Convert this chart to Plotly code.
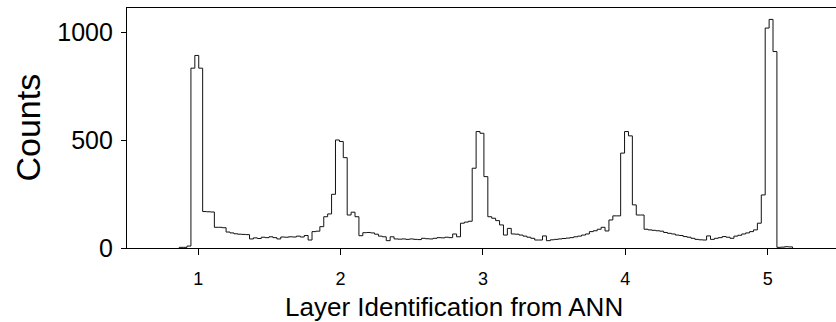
import plotly.graph_objects as go

# Histogram bins (uniform width)
BIN_START = 0.8667
BIN_WIDTH = 0.02744

counts = [
    3, 3, 9,                                   # before peak 1
    834, 893, 834, 169, 168, 167, 96, 96, 94, 74,
    70, 66, 64, 63, 62, 42, 47, 44, 50, 48,
    52, 48, 42, 51, 50, 52, 51, 55, 51, 58,
    37, 76, 78, 99, 145, 158, 249, 501, 494, 419,
    153, 166, 145, 57, 71, 72, 70, 64, 55, 52,
    34, 52, 42, 41, 42, 40, 42, 40, 39, 45,
    43, 42, 45, 48, 47, 50, 48, 65, 52, 115,
    120, 124, 370, 540, 532, 331, 145, 138, 127, 107,
    60, 91, 65, 64, 60, 55, 50, 45, 37, 37,
    56, 34, 38, 40, 42, 44, 46, 48, 52, 55,
    60, 65, 76, 80, 87, 96, 79, 130, 149, 149,
    440, 540, 520, 200, 153, 153, 87, 84, 82, 80,
    78, 72, 68, 65, 60, 58, 53, 50, 45, 40,
    38, 37, 56, 40, 45, 48, 53, 50, 45, 55,
    59, 65, 70, 76, 84, 115, 246, 1020, 1060, 911,
    3, 4, 6, 5,                                # after peak 5
]

y_ticks = [0, 500, 1000]
x_ticks = [1, 2, 3, 4, 5]
x_title = "Layer Identification from ANN"
y_title = "Counts"

n = len(counts)
edges = [BIN_START + BIN_WIDTH * i for i in range(n + 1)]
xs = [edges[0]] + edges[:n] + [edges[n]]
ys = [0] + counts + [0]

FONT = "Liberation Sans, Arial, Helvetica, sans-serif"

fig = go.Figure()
fig.add_trace(go.Scatter(
    x=xs, y=ys, mode="lines", line=dict(shape="hv", color="#111111", width=1),
    hoverinfo="skip", showlegend=False,
))

fig.update_layout(
    width=836, height=322,
    margin=dict(l=127, r=0, t=8, b=74),
    paper_bgcolor="white", plot_bgcolor="white",
    font=dict(family=FONT, color="black"),
    xaxis=dict(
        range=[0.5, 5.48], tickvals=x_ticks, ticktext=[str(v) for v in x_ticks],
        showgrid=False, zeroline=False, showline=True, linecolor="black", linewidth=1.2,
        mirror=True, ticks="outside", ticklen=6, tickwidth=1, tickcolor="black",
        tickfont=dict(size=18, family=FONT), ticklabelstandoff=8,
    ),
    yaxis=dict(
        range=[0, 1113], tickvals=y_ticks, ticktext=[str(v) for v in y_ticks],
        showgrid=False, zeroline=False, showline=True, linecolor="black", linewidth=1.2,
        ticks="outside", ticklen=5, tickwidth=1, tickcolor="black",
        tickfont=dict(size=25, family=FONT), ticklabelstandoff=3,
    ),
    annotations=[
        dict(text=x_title, xref="paper", yref="paper", x=(454 - 127) / 709, y=-0.175,
             xanchor="center", yanchor="top", showarrow=False,
             font=dict(size=26, family=FONT, color="black")),
        dict(text=y_title, xref="paper", yref="paper", x=(27.5 - 127) / 709, y=0.5,
             xanchor="center", yanchor="middle", showarrow=False, textangle=-90,
             font=dict(size=34, family=FONT, color="black")),
    ],
)

fig.write_html("out.html")
